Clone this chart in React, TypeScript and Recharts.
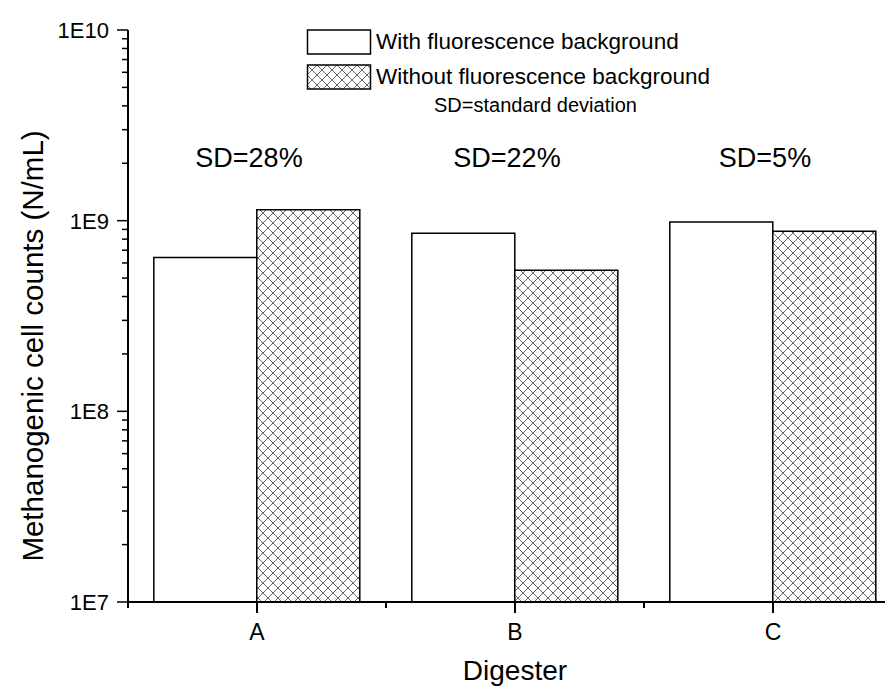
import { BarChart, Bar, XAxis, YAxis, Legend, ReferenceDot } from 'recharts';

// Digesters and cell counts
const digesters = ['A', 'B', 'C'];
const withBackground = [6.4e8, 8.6e8, 9.85e8];
const withoutBackground = [1.14e9, 5.5e8, 8.8e8];
const sdLabels = ['SD=28%', 'SD=22%', 'SD=5%'];
const sdLabelLevel = 2.15e9;

// Log axis ticks: decades plus minor steps 2..9
const decadeTicks = [1e7, 1e8, 1e9, 1e10];
const decadeLabels = ['1E7', '1E8', '1E9', '1E10'];
const minorSteps = [2, 3, 4, 5, 6, 7, 8, 9];

const seriesNames = ['With fluorescence background', 'Without fluorescence background'];
const legendNote = 'SD=standard deviation';

const data = digesters.map((name, i) => ({
  name,
  withBg: withBackground[i],
  withoutBg: withoutBackground[i],
}));

const yTicks = [
  ...decadeTicks,
  ...decadeTicks.slice(0, -1).flatMap(d => minorSteps.map(s => s * d)),
].sort((a, b) => a - b);

const CHART_W = 910;
const CHART_H = 680;
const MARGIN = { top: 22, right: 16, left: 0, bottom: 0 };
const Y_AXIS_W = 120;
const BAND = (CHART_W - MARGIN.left - MARGIN.right - Y_AXIS_W) / digesters.length;

const YTick = (props: any) => {
  const { x, y, payload } = props;
  const idx = decadeTicks.indexOf(payload.value);
  const major = idx >= 0;
  return (
    <g>
      <line x1={x} x2={x - (major ? 11 : 6)} y1={y} y2={y} stroke="#000" strokeWidth={1.5} />
      {major && (
        <text x={x - 19} y={y + 8} textAnchor="end" fontSize="22px" style={{ fontSize: '22px', fill: '#000' }}>
          {decadeLabels[idx]}
        </text>
      )}
    </g>
  );
};

const XTick = (props: any) => {
  const { x, y, payload } = props;
  return (
    <g>
      <line x1={x} x2={x} y1={y} y2={y + 11} stroke="#000" strokeWidth={2} />
      <line x1={x - BAND / 2} x2={x - BAND / 2} y1={y} y2={y + 6} stroke="#000" strokeWidth={2} />
      <text x={x} y={y + 38} textAnchor="middle" fontSize="23px" style={{ fontSize: '23px', fill: '#000' }}>
        {payload.value}
      </text>
    </g>
  );
};

const YTitle = (props: any) => {
  const { viewBox } = props;
  const cx = 35;
  const cy = viewBox.y + viewBox.height / 2 + 30;
  return (
    <text
      x={cx}
      y={cy}
      transform={`rotate(-90 ${cx} ${cy})`}
      textAnchor="middle"
      style={{ fontSize: 29.5, fill: '#000' }}
    >
      Methanogenic cell counts (N/mL)
    </text>
  );
};

const LegendBox = (props: any) => {
  const { payload } = props;
  return (
    <svg width={500} height={95} style={{ overflow: 'visible' }}>
      {(payload || []).map((entry: any, i: number) => (
        <g key={entry.value} transform={`translate(0, ${2 + i * 35})`}>
          <rect x={0.5} y={0} width={63} height={24} fill={entry.color} stroke="#000" strokeWidth={1.5} />
          <text x={69} y={19} style={{ fontSize: 22.5, fill: '#000' }}>
            {entry.value}
          </text>
        </g>
      ))}
      <text x={127} y={84} style={{ fontSize: 20, fill: '#000' }}>
        {legendNote}
      </text>
    </svg>
  );
};

export default function App() {
  return (
    <div
      style={{
        width: 885,
        height: CHART_H,
        overflow: 'hidden',
        position: 'relative',
        fontFamily: '"Liberation Sans", Arial, sans-serif',
        background: '#fff',
      }}
    >
      <BarChart
        width={CHART_W}
        height={CHART_H}
        data={data}
        margin={MARGIN}
        barCategoryGap="10%"
        barGap={0}
      >
        <defs>
          <pattern id="crosshatch" width={10} height={10} patternUnits="userSpaceOnUse">
            <rect width={10} height={10} fill="#fff" />
            <path d="M0,0L10,10M10,0L0,10" stroke="#6a6a6a" strokeWidth={1} />
          </pattern>
        </defs>
        <XAxis
          dataKey="name"
          height={86}
          tickLine={false}
          tickSize={0}
          tickMargin={0}
          interval={0}
          tick={<XTick />}
          axisLine={{ stroke: '#000', strokeWidth: 2 }}
          label={{ value: 'Digester', position: 'insideBottom', offset: 8, fontSize: 28, fill: '#000' }}
        />
        <YAxis
          width={Y_AXIS_W}
          scale="log"
          domain={[1e7, 1e10]}
          allowDataOverflow
          ticks={yTicks}
          interval={0}
          tickLine={false}
          tickSize={0}
          tickMargin={0}
          tick={<YTick />}
          axisLine={{ stroke: '#000', strokeWidth: 2 }}
          label={{ content: <YTitle /> }}
        />
        <Legend
          layout="vertical"
          align="center"
          verticalAlign="middle"
          wrapperStyle={{ position: 'absolute', left: 299, top: 20, width: 500 }}
          content={<LegendBox />}
        />
        <Bar
          dataKey="withBg"
          name={seriesNames[0]}
          fill="#ffffff"
          stroke="#000"
          strokeWidth={1.5}
          isAnimationActive={false}
        />
        <Bar
          dataKey="withoutBg"
          name={seriesNames[1]}
          fill="url(#crosshatch)"
          stroke="#000"
          strokeWidth={1.5}
          isAnimationActive={false}
        />
        {digesters.map((d, i) => (
          <ReferenceDot
            key={d}
            x={d}
            y={sdLabelLevel}
            r={0}
            fill="none"
            stroke="none"
            label={{ value: sdLabels[i], position: 'center', fontSize: 27, fill: '#000', dx: -8 }}
          />
        ))}
      </BarChart>
    </div>
  );
}
